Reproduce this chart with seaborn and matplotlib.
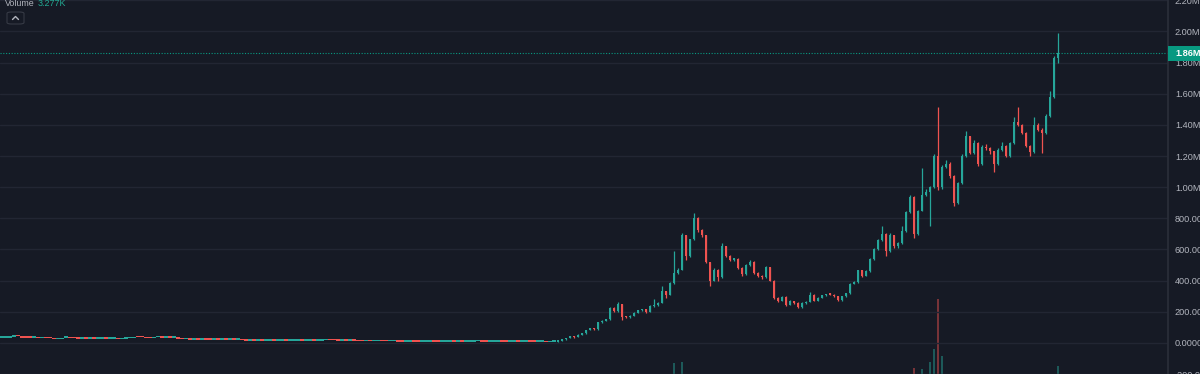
import numpy as np
import pandas as pd
import matplotlib
matplotlib.use("Agg")
import matplotlib.pyplot as plt
import seaborn as sns
from matplotlib.patches import FancyBboxPatch, Rectangle
from matplotlib.lines import Line2D

# ---------------- data (prices in thousands) ----------------
close_early = [
    33, 33, 40, 42, 41, 34, 33, 32, 33, 31,
    33, 31, 30, 22, 24, 33, 34, 30, 28, 27,
    27, 26, 27, 26, 27, 28, 26, 27, 27, 25,
    27, 28, 31, 37, 36, 35, 31, 30, 35, 35,
    34, 36, 34, 35, 27, 22, 23, 21, 22, 20,
    22, 21, 20, 21, 19, 20, 19, 21, 19, 20,
    18, 14, 14, 13, 14, 13, 14, 14, 13, 14,
    14, 13, 14, 14, 14, 13, 14, 14, 13, 14,
    17, 18, 17, 16, 14, 14, 13, 14, 13, 11,
    10, 10, 9, 10, 11, 10, 9, 10, 10, 8,
    7, 8, 9, 8, 7, 8, 8, 9, 8, 7,
    7, 8, 9, 8, 8, 7, 8, 8, 9, 10,
    8, 7, 8, 8, 9, 8, 7, 8, 8, 7,
    8, 9, 8, 7, 7, 7, 6, 7, 8,
]

close_late = [
    12, 22, 30, 44, 36, 52, 62, 82, 93, 86,
    131, 140, 151, 227, 204, 250, 165, 163, 172, 194,
    210, 215, 197, 236, 240, 258, 330, 310, 386, 450,
    471, 690, 560, 665, 800, 727, 690, 520, 400, 471,
    420, 620, 560, 535, 540, 480, 440, 500, 520, 450,
    430, 420, 488, 400, 285, 270, 295, 245, 270, 258,
    230, 255, 265, 310, 272, 290, 305, 311, 310, 300,
    276, 300, 318, 380, 390, 465, 430, 460, 540, 600,
    660, 700, 590, 690, 620, 640, 720, 840, 935, 700,
    850, 950, 970, 1000, 1200, 1000, 1130, 1150, 1070, 900,
    1027, 1200, 1326, 1220, 1283, 1150, 1260, 1250, 1230, 1150,
    1240, 1265, 1200, 1283, 1420, 1400, 1350, 1262, 1225, 1400,
    1370, 1347, 1460, 1580, 1830, 1860,
]

high_late = [
    14, 24, 32, 46, 45, 55, 66, 85, 96, 95,
    134, 145, 156, 232, 230, 262, 252, 170, 176, 198,
    214, 220, 217, 240, 279, 262, 364, 335, 392, 588,
    480, 706, 692, 670, 834, 810, 730, 695, 522, 480,
    472, 642, 625, 565, 548, 545, 485, 505, 534, 525,
    455, 435, 492, 490, 405, 292, 300, 298, 275, 272,
    262, 260, 270, 326, 312, 295, 310, 316, 318, 312,
    302, 304, 322, 386, 396, 471, 468, 465, 545, 610,
    668, 749, 705, 706, 692, 648, 749, 850, 950, 940,
    856, 1123, 990, 1010, 1210, 1518, 1140, 1175, 1160, 1075,
    1035, 1210, 1360, 1330, 1300, 1290, 1270, 1275, 1255, 1235,
    1250, 1290, 1270, 1290, 1450, 1518, 1405, 1355, 1270, 1450,
    1410, 1380, 1470, 1620, 1840, 1990,
]

low_late = [
    7, 11, 21, 29, 34, 35, 51, 60, 80, 84,
    85, 128, 138, 150, 198, 200, 150, 158, 160, 170,
    190, 205, 192, 195, 232, 238, 255, 290, 305, 380,
    440, 465, 535, 550, 660, 715, 680, 510, 364, 395,
    396, 415, 550, 525, 525, 475, 428, 435, 495, 445,
    425, 413, 415, 395, 279, 262, 266, 236, 240, 250,
    226, 225, 250, 260, 268, 268, 285, 300, 305, 296,
    270, 272, 296, 312, 375, 385, 425, 428, 455, 535,
    595, 655, 556, 585, 612, 612, 635, 715, 835, 674,
    695, 845, 940, 749, 995, 984, 990, 1120, 1060, 877,
    895, 1020, 1195, 1210, 1210, 1133, 1145, 1240, 1215, 1100,
    1145, 1230, 1195, 1195, 1275, 1390, 1340, 1255, 1197, 1220,
    1360, 1219, 1340, 1450, 1570, 1800,
]

vol_candle = [168, 170, 228, 230, 232, 233, 234, 235, 264]
vol_k = [4.5, 4.8, 2.5, 2.0, 5.0, 10.5, 31.0, 7.5, 3.277]

price_ticks_k = [2200, 2000, 1800, 1600, 1400, 1200, 1000, 800, 600, 400, 200, 0, -200]
price_tick_labels = ["2.20M", "2.00M", "1.80M", "1.60M", "1.40M", "1.20M", "1.00M",
                     "800.00K", "600.00K", "400.00K", "200.00K", "0.0000", "-200.00K"]
last_price_k = 1860
last_price_label = "1.86M"
legend_name = "Volume"
legend_value = "3.277K"

# ---------------- table ----------------
close = close_early + close_late
n = len(close)
n_early = len(close_early)
opens = [close[0]] + close[:-1]
df = pd.DataFrame({"idx": np.arange(n), "open": opens, "close": close})
df["high"] = df[["open", "close"]].max(axis=1)
df["low"] = df[["open", "close"]].min(axis=1)
df.loc[n_early:, "high"] = np.maximum(high_late, df.loc[n_early:, "high"].values)
df.loc[n_early:, "low"] = np.minimum(low_late, df.loc[n_early:, "low"].values)
df["up"] = df["close"] >= df["open"]

# ---------------- style ----------------
BG = "#161A25"
GRID = "#222633"
UP = "#26A69A"
DOWN = "#EF5350"
TXT = "#B2B5BE"
FONT = ["Liberation Sans", "DejaVu Sans"]

sns.set_theme(style="dark", rc={
    "axes.facecolor": BG, "figure.facecolor": BG,
    "grid.color": GRID, "axes.edgecolor": "#2A2E39",
})
plt.rcParams["font.family"] = FONT

W, H = 1200, 374
fig = plt.figure(figsize=(W / 100, H / 100), dpi=100)
ax_w = 1168 / W
ax2 = fig.add_axes([0, 0, ax_w, 1])
ax = ax2.twinx()
ax.set_position([0, 0, ax_w, 1])

# volume (behind)
ax2.set_facecolor(BG)
vcol = [UP if df.loc[i, "up"] else DOWN for i in vol_candle]
ax2.bar(vol_candle, vol_k, width=0.6, color=vcol, alpha=0.45, linewidth=0)
ax2.set_ylim(0, 155)
ax2.set_yticks([])
ax2.set_xticks([])
for s in ax2.spines.values():
    s.set_visible(False)

# price pane
ax.patch.set_visible(False)
xlo, xhi = -0.5, (1168 - 2) / 4
ax.set_xlim(xlo, xhi)
ax2.set_xlim(xlo, xhi)
ylo, yhi = -195.5, 2202
ax.set_ylim(ylo, yhi)

grid_px = [31, 119, 220, 287, 353, 419, 475, 538, 626, 695, 763, 832, 901, 971, 1040, 1110]
ax.set_xticks([(p - 2) / 4 for p in grid_px])
ax.set_xticklabels([])
ax.set_yticks(price_ticks_k)
ax.set_yticklabels(price_tick_labels)
ax.grid(True, color=GRID, linewidth=1)
ax.tick_params(axis="y", length=0, pad=5, labelsize=6.6, labelcolor=TXT, right=True, labelright=True)
ax.tick_params(axis="x", length=0)
for lbl in ax.get_yticklabels():
    lbl.set_horizontalalignment("left")
for k, s in ax.spines.items():
    s.set_visible(k == "right")
ax.spines["right"].set_color("#2A2E39")

colors = np.where(df["up"], UP, DOWN)
late = df.iloc[n_early:]
ax.vlines(late["idx"], late["low"], late["high"],
          colors=np.where(late["up"], UP, DOWN), linewidth=0.9, zorder=3)
body = (df["close"] - df["open"]).abs().clip(lower=9)
bottom = df[["open", "close"]].min(axis=1)
widths = np.where(df["idx"] < n_early, 0.95, 0.5)
ax.bar(df["idx"], body, bottom=bottom, width=widths, color=colors, linewidth=0, zorder=4)

# last price line
ax.axhline(last_price_k, color="#089981", linestyle=(0, (1, 1.5)), linewidth=0.8, zorder=2)

# last price box
y_px = 343.5 - last_price_k * 0.156
fig.patches.append(Rectangle((1168 / W, 1 - (y_px + 7.5) / H), 32 / W, 15 / H,
                             transform=fig.transFigure, facecolor="#089981",
                             edgecolor="none", zorder=10))
fig.text(1175 / W, 1 - y_px / H, last_price_label, color="white", fontsize=6.6,
         fontweight="bold", va="center", ha="left", zorder=11)

# legend top-left
fig.text(5 / W, 1 - 3 / H, legend_name, color=TXT, fontsize=6.4, va="center", ha="left")
fig.text(38 / W, 1 - 3 / H, legend_value, color="#22AB94", fontsize=6.4, va="center", ha="left")
fig.patches.append(FancyBboxPatch((7 / W, 1 - 24 / H), 17 / W, 12 / H,
                                  boxstyle="round,pad=0,rounding_size=0.004",
                                  transform=fig.transFigure, facecolor=BG,
                                  edgecolor="#363A45", linewidth=0.8, zorder=10))
fig.lines.append(Line2D([12.5 / W, 15.5 / W, 18.5 / W], [1 - 19.5 / H, 1 - 16.5 / H, 1 - 19.5 / H],
                        transform=fig.transFigure, color=TXT, linewidth=1.0, zorder=11))

fig.savefig("out.png", dpi=100, facecolor=BG)
